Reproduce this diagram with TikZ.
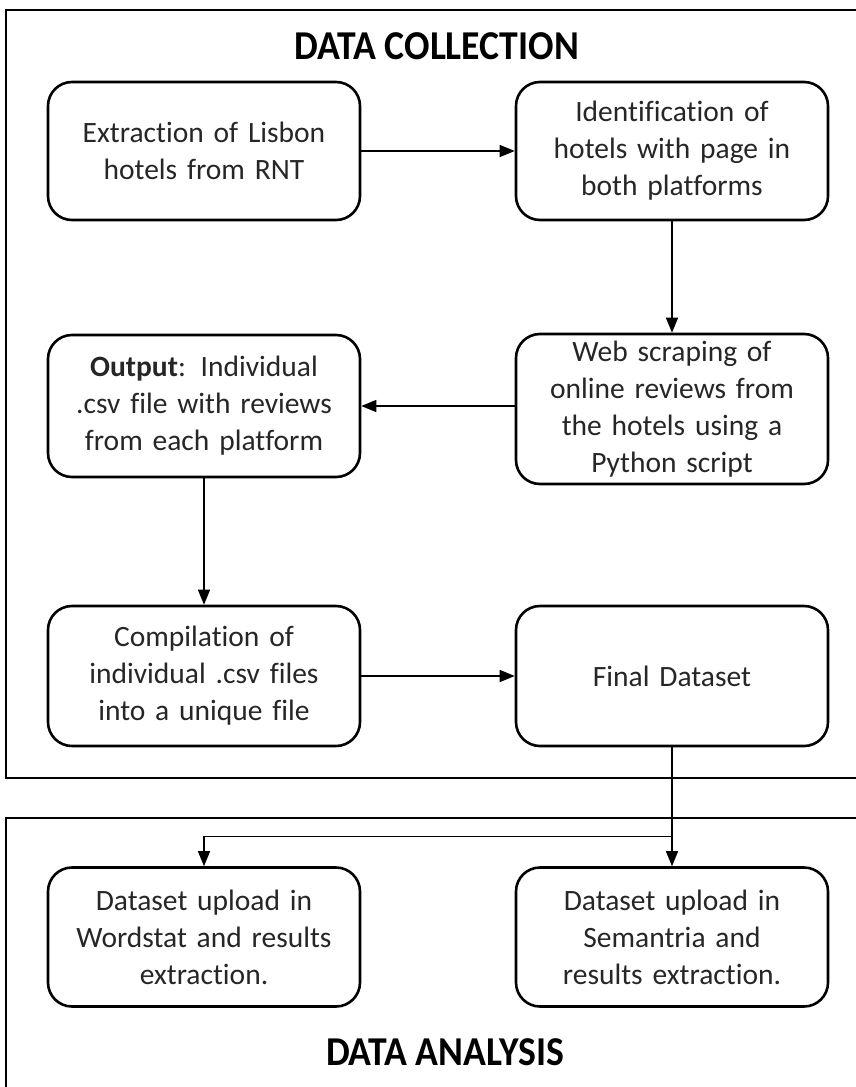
\documentclass[tikz,border=0pt]{standalone}
\usepackage{fontspec}
\setmainfont[Ligatures=NoCommon]{Carlito}
\usepackage{tikz}
\usetikzlibrary{positioning}
\usetikzlibrary{arrows.meta}
\usetikzlibrary{calc}

\begin{document}
\begin{tikzpicture}[
  x=1pt, y=-1pt,
  box/.style={draw, line width=2.6pt, rounded corners=24pt, align=center,
    minimum width=312pt, text width=300pt, text=black!85,
    font=\fontsize{29.5}{37}\selectfont},
  frame/.style={draw, line width=2.6pt},
  arrow/.style={-{Triangle[length=15pt, width=12pt]}, line width=1.4pt},
  heading/.style={font=\fontsize{41}{45}\selectfont\bfseries}
]
\useasboundingbox (0,0) rectangle (856,1087);

% Panels
\draw[frame] (6,10) rectangle (880,778);
\draw[frame] (6,818) rectangle (880,1110);
\node[heading] (collect) at (437,46) {\scalebox{0.92}[1]{DATA COLLECTION}};
\node[heading] (analysis) at (445,1052) {\scalebox{0.92}[1]{DATA ANALYSIS}};

% Data collection steps
\node[box, minimum height=138pt] (extract) at (204,151) {Extraction of Lisbon\\hotels from RNT};
\node[box, minimum height=138pt] (identify) at (672,151) {Identification of\\hotels with page in\\both platforms};
\node[box, minimum height=150pt] (scrape) at (672,409) {Web scraping of\\online reviews from\\the hotels using a\\Python script};
\node[box, minimum height=142pt] (output) at (204,406) {\textbf{Output}: Individual\\.csv file with reviews\\from each platform};
\node[box, minimum height=140pt] (compile) at (204,676) {Compilation of\\individual .csv files\\into a unique file};
\node[box, minimum height=140pt] (final) at (672,676) {Final Dataset};

% Data analysis steps
\node[box, minimum height=139pt] (wordstat) at (204,937) {Dataset upload in\\Wordstat and results\\extraction.};
\node[box, minimum height=139pt] (semantria) at (672,937) {Dataset upload in\\Semantria and\\results extraction.};

% Connectors
\draw[arrow] (extract) -- (identify);
\draw[arrow] (identify) -- (scrape);
\draw[arrow] (scrape.west |- output.east) -- (output.east);
\draw[arrow] (output) -- (compile);
\draw[arrow] (compile) -- (final);
\draw[arrow] (final) -- (semantria);
\coordinate (split) at ($(final.south)!0.75!(semantria.north)$);
\draw[arrow] (split) -| (wordstat.north);

\end{tikzpicture}
\end{document}
